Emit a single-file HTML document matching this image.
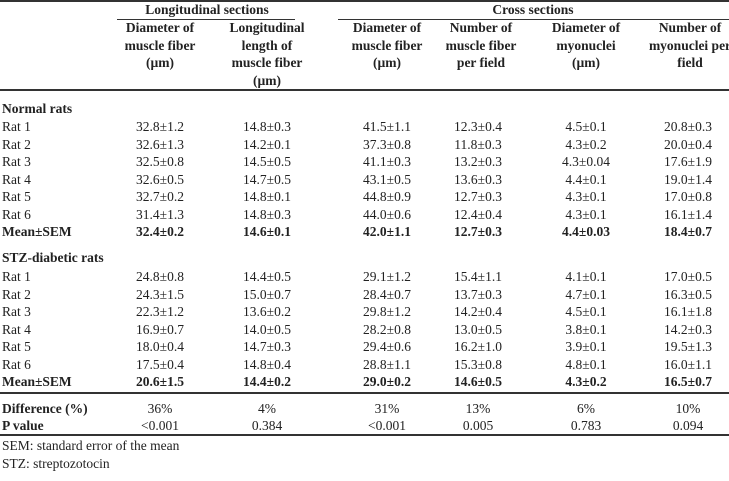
<!DOCTYPE html>
<html><head><meta charset="utf-8"><style>
body{margin:0;width:729px;height:481px;background:#fff;position:relative;overflow:hidden;font-family:"Liberation Serif",serif;font-size:13.5px;color:#222}
.t{position:absolute;white-space:nowrap;line-height:16px;transform:translate(-50%,-50%)}
.l{position:absolute;white-space:nowrap;line-height:16px;transform:translateY(-50%);left:2px}
.b{font-weight:bold}
.h{position:absolute;background:#333}
.hd{position:absolute;text-align:center;line-height:17.5px;transform:translateX(-50%);white-space:nowrap;font-weight:bold;top:19px;font-size:13.5px}
</style></head><body>
<div class="h" style="left:0;top:0;width:729px;height:2px"></div>
<div class="t b" style="left:207px;top:10px">Longitudinal sections</div>
<div class="t b" style="left:533px;top:10px">Cross sections</div>
<div class="h" style="left:117px;top:19px;width:178px;height:1px"></div>
<div class="h" style="left:338px;top:19px;width:391px;height:1px"></div>
<div class="hd" style="left:160px">Diameter of<br>muscle fiber<br>(µm)</div>
<div class="hd" style="left:267px">Longitudinal<br>length of<br>muscle fiber<br>(µm)</div>
<div class="hd" style="left:387px">Diameter of<br>muscle fiber<br>(µm)</div>
<div class="hd" style="left:481px">Number of<br>muscle fiber<br>per field</div>
<div class="hd" style="left:586px">Diameter of<br>myonuclei<br>(µm)</div>
<div class="hd" style="left:690px">Number of<br>myonuclei per<br>field</div>
<div class="h" style="left:0;top:89px;width:729px;height:2px"></div>
<div id="rows"></div>
<div class="h" style="left:0;top:392px;width:729px;height:2px"></div>
<div class="h" style="left:0;top:434px;width:729px;height:2px"></div>
<div class="l" style="top:446px">SEM: standard error of the mean</div>
<div class="l" style="top:464px">STZ: streptozotocin</div>
<script>
var xs=[160,267,387,478,586,688];
var R=document.getElementById('rows');
function row(y,label,vals,bold){
 var h='<div class="l'+(bold?' b':'')+'" style="top:'+y+'px">'+label+'</div>';
 if(vals)vals.forEach(function(v,i){h+='<div class="t'+(bold?' b':'')+'" style="left:'+xs[i]+'px;top:'+y+'px">'+v+'</div>';});
 R.insertAdjacentHTML('beforeend',h);
}
row(109,'Normal rats',null,true);
var n=[["32.8±1.2","14.8±0.3","41.5±1.1","12.3±0.4","4.5±0.1","20.8±0.3"],
["32.6±1.3","14.2±0.1","37.3±0.8","11.8±0.3","4.3±0.2","20.0±0.4"],
["32.5±0.8","14.5±0.5","41.1±0.3","13.2±0.3","4.3±0.04","17.6±1.9"],
["32.6±0.5","14.7±0.5","43.1±0.5","13.6±0.3","4.4±0.1","19.0±1.4"],
["32.7±0.2","14.8±0.1","44.8±0.9","12.7±0.3","4.3±0.1","17.0±0.8"],
["31.4±1.3","14.8±0.3","44.0±0.6","12.4±0.4","4.3±0.1","16.1±1.4"]];
n.forEach(function(v,i){row(127+i*17.5,'Rat '+(i+1),v);});
row(232,'Mean±SEM',["32.4±0.2","14.6±0.1","42.0±1.1","12.7±0.3","4.4±0.03","18.4±0.7"],true);
row(258,'STZ-diabetic rats',null,true);
var s=[["24.8±0.8","14.4±0.5","29.1±1.2","15.4±1.1","4.1±0.1","17.0±0.5"],
["24.3±1.5","15.0±0.7","28.4±0.7","13.7±0.3","4.7±0.1","16.3±0.5"],
["22.3±1.2","13.6±0.2","29.8±1.2","14.2±0.4","4.5±0.1","16.1±1.8"],
["16.9±0.7","14.0±0.5","28.2±0.8","13.0±0.5","3.8±0.1","14.2±0.3"],
["18.0±0.4","14.7±0.3","29.4±0.6","16.2±1.0","3.9±0.1","19.5±1.3"],
["17.5±0.4","14.8±0.4","28.8±1.1","15.3±0.8","4.8±0.1","16.0±1.1"]];
s.forEach(function(v,i){row(277+i*17.5,'Rat '+(i+1),v);});
row(382,'Mean±SEM',["20.6±1.5","14.4±0.2","29.0±0.2","14.6±0.5","4.3±0.2","16.5±0.7"],true);
row(409,'Difference (%)',["36%","4%","31%","13%","6%","10%"]);
row(426,'P value',["&lt;0.001","0.384","&lt;0.001","0.005","0.783","0.094"]);
R.querySelectorAll('.l').forEach(function(e){if(/Difference|P value/.test(e.textContent))e.classList.add('b');});
</script>
</body></html>
